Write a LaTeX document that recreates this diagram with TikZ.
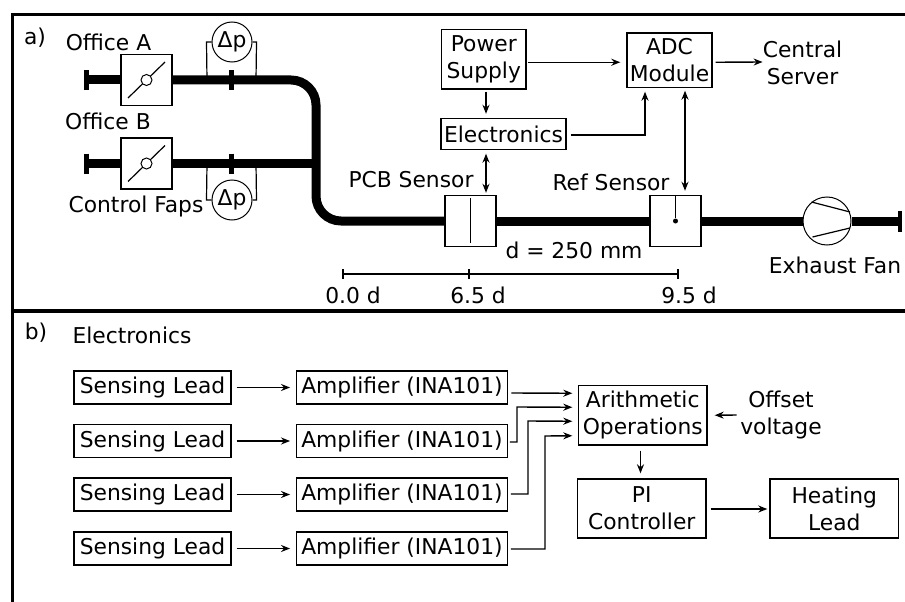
\documentclass[tikz,border=0pt]{standalone}
\usepackage{fontspec}
\setmainfont{DejaVu Sans}
\usepackage{tikz}
\usetikzlibrary{arrows.meta, calc}

\begin{document}
\begin{tikzpicture}[x=1pt, y=-1pt]
	% Define styles
	\tikzset{
		label/.style={inner sep=0pt, align=center, font=\fontsize{21.8}{27}\selectfont},
		block/.style={label, rectangle, draw, line width=1.4pt},
		valve/.style={rectangle, draw, line width=1.4pt, minimum width=51pt, minimum height=51pt, inner sep=0pt},
		gauge/.style={label, circle, draw, line width=1pt, minimum size=40pt},
		pipe/.style={draw, line width=9pt, rounded corners=25pt},
		flange/.style={draw, line width=5pt},
		wire/.style={draw, line width=1.2pt},
		frame/.style={draw, line width=3.5pt},
		line/.style={draw, line width=1.4pt, -{Stealth[length=9pt, width=7pt]}},
		twoline/.style={draw, line width=1.4pt, {Stealth[length=9pt, width=7pt]}-{Stealth[length=9pt, width=7pt]}}
	}
	\useasboundingbox (0,0) rectangle (905,602);

	% Frame
	\path [frame] (12.5,602) -- (12.5,14.5) -- (905,14.5);
	\path [frame] (12.5,311) -- (905,311);

	% Nodes of part a
	\node[label] (parta) at (35,38) {a)};
	\node[label] (officeA) at (108.5,42) {Office A};
	\node[label] (officeB) at (108,121) {Office B};
	\node[label] (flaps) at (136,206) {Control Faps};
	\node[valve] (valveA) at (146.5,80) {};
	\node[valve] (valveB) at (146.5,163.5) {};
	\node[gauge] (gaugeA) at (232,42) {Δp};
	\node[gauge] (gaugeB) at (232,200) {Δp};
	\node[block, minimum width=84.5pt, minimum height=59.5pt] (supply) at (483.75,59.25) {Power\\Supply};
	\node[block, minimum width=125pt, minimum height=31pt] (elec) at (503.5,134) {Electronics};
	\node[block, minimum width=85pt, minimum height=54.5pt] (adc) at (669.5,60.25) {ADC\\Module};
	\node[label] (server) at (802.5,63) {Central\\Server};
	\node[valve] (pcb) at (470.5,221) {};
	\node[valve] (ref) at (675.5,221) {};
	\node[circle, draw, line width=1pt, minimum size=48pt, inner sep=0pt] (fan) at (827,221) {};
	\node[label] (pcblabel) at (411,180) {PCB Sensor};
	\node[label] (reflabel) at (611,182) {Ref Sensor};
	\node[label] (dist) at (574,250) {d = 250 mm};
	\node[label] (fanlabel) at (835,265) {Exhaust Fan};
	\node[label] (tick0) at (353,295) {0.0 d};
	\node[label] (tick1) at (478,295) {6.5 d};
	\node[label] (tick2) at (689,295) {9.5 d};

	% Pipes
	\coordinate (capA) at (86,80);
	\coordinate (capB) at (86,163.5);
	\coordinate (capC) at (900,221);
	\coordinate (drop) at (316,150);
	\coordinate (flangeA) at (231,80);
	\coordinate (flangeB) at (231,163.5);
	\path [pipe] (capA) -- (valveA.west);
	\path [pipe] (capB) -- (valveB.west);
	\path [pipe] (valveA.east) -| (drop) |- (pcb.west);
	\path [pipe] (valveB.east) -- (drop |- valveB.east);
	\path [pipe] (pcb.east) -- (ref.west);
	\path [pipe] (ref.east) -- (fan.west);
	\path [pipe] (fan.east) -- (capC);
	\path [flange] ($(capA)+(0,-10)$) -- ($(capA)+(0,10)$);
	\path [flange] ($(capB)+(0,-10)$) -- ($(capB)+(0,10)$);
	\path [flange] ($(flangeA)+(0,-10)$) -- ($(flangeA)+(0,10)$);
	\path [flange] ($(flangeB)+(0,-10)$) -- ($(flangeB)+(0,10)$);
	\path [draw, line width=3.5pt] ($(capC)+(0,-10.5)$) -- ($(capC)+(0,10.5)$);

	% Valve and sensor details
	\foreach \v in {valveA, valveB} {
		\path [wire] ($(\v)+(-18.5,18)$) -- ($(\v)+(18.5,-18)$);
		\node[circle, draw, fill=white, line width=1pt, minimum size=11pt, inner sep=0pt] (\v dot) at (\v) {};
	}
	\path [wire] ($(pcb.north)+(0,3)$) -- ($(pcb.south)+(0,-4)$);
	\node[circle, fill, minimum size=5pt, inner sep=0pt] (refdot) at (ref) {};
	\path [wire] (ref.north) -- (refdot);
	\path [wire] ($(fan)+(-15.5,-19)$) -- ($(fan)+(23,-9)$);
	\path [wire] ($(fan)+(-14.5,16)$) -- ($(fan)+(23,7)$);

	% Gauge tubes
	\path [wire] (gaugeA.west) -- ++(-5,0) -- ($(flangeA)+(-24,0)$);
	\path [wire] (gaugeA.east) -- ++(4,0) -- ($(flangeA)+(25,0)$);
	\path [wire] (gaugeB.west) -- ++(-5,0) -- ($(flangeB)+(-24,0)$);
	\path [wire] (gaugeB.east) -- ++(4,0) -- ($(flangeB)+(25,0)$);

	% Scale
	\coordinate (mark0) at (343,274);
	\coordinate (mark1) at (469,274);
	\coordinate (mark2) at (678,274);
	\path [wire] (mark0) -- (mark2);
	\foreach \m in {mark0, mark1, mark2} {
		\path [wire] ($(\m)+(0,-5)$) -- ($(\m)+(0,5)$);
	}

	% Arrows of part a
	\path [line] ($(supply.east)+(1.5,3)$) -- ($(adc.west)+(-6,2)$);
	\path [line] ($(adc.east)+(3,2)$) -- ($(server.west)+(0,-1)$);
	\path [line] ($(supply.south)+(2.25,2)$) -- ($(elec.north)+(-17.5,-4)$);
	\path [line] ($(elec.east)+(4,1)$) -| ($(adc.south)+(-24.5,3.5)$);
	\path [twoline] ($(elec.south)+(-17.5,3.5)$) -- ($(pcb.north)+(15.5,-2)$);
	\path [twoline] ($(adc.south)+(15.5,2.5)$) -- ($(ref.north)+(9.5,-4)$);

	% Nodes of part b
	\node[label] (partb) at (36,333) {b)};
	\node[label] (title) at (132,335) {Electronics};
	\foreach \i/\y in {1/387.5, 2/441, 3/494.5, 4/548.5} {
		\node[block, minimum width=157pt, minimum height=33pt] (lead\i) at (152.5,\y) {Sensing Lead};
		\node[block, minimum width=210.5pt, minimum height=33pt] (amp\i) at (402,\y) {Amplifier (INA101)};
		\path [line] ($(lead\i.east)+(5,0)$) -- ($(amp\i.west)+(-6,0)$);
	}
	\node[block, minimum width=128.5pt, minimum height=59.5pt] (arith) at (642.75,415.25) {Arithmetic\\Operations};
	\node[block, minimum width=128.5pt, minimum height=59pt] (pi) at (641.75,508.5) {PI\\Controller};
	\node[block, minimum width=128.5pt, minimum height=59pt] (heat) at (834.25,508.5) {Heating\\Lead};
	\node[label] (offset) at (781,415) {Offset\\voltage};

	% Arrows of part b
	\path [line] ($(amp1.east)+(3.5,5.5)$) -- ($(arith.west)+(-5.5,-22)$);
	\path [line] ($(amp2.east)+(2,1)$) -| ++(7,-35) -- ($(arith.west)+(-5.5,-8)$);
	\path [line] ($(amp3.east)+(3,-0.5)$) -| ++(17,-73) -- ($(arith.west)+(-5.5,6)$);
	\path [line] ($(amp4.east)+(3,0.5)$) -| ++(34,-113) -- ($(arith.west)+(-5.5,20.5)$);
	\path [line] ($(offset.west)+(-3.5,0)$) -- ($(arith.east)+(7,0)$);
	\path [line] ($(arith.south)+(-2.25,5)$) -- ($(pi.north)+(-1.25,-5)$);
	\path [line] ($(pi.east)+(4,0.5)$) -- ($(heat.west)+(-2,0.5)$);
\end{tikzpicture}
\end{document}
